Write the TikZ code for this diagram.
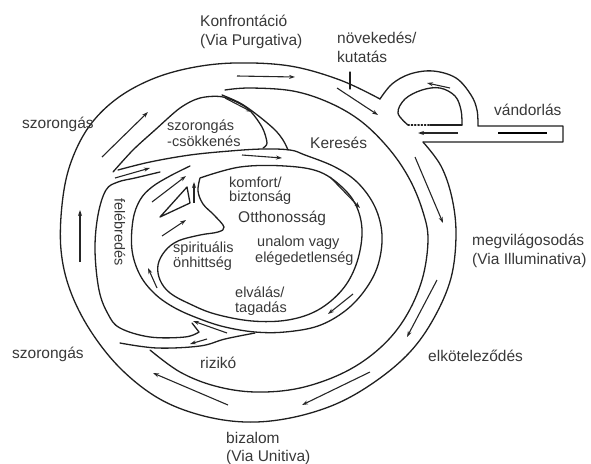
\documentclass[tikz,border=0pt]{standalone}
\usepackage{fontspec}
\setmainfont{Liberation Sans}
\usetikzlibrary{arrows.meta}
\begin{document}
\begin{tikzpicture}[x=1pt,y=-1pt,
  ln/.style={line width=1.3pt, line join=round, line cap=round, color=black!88},
  arr/.style={line width=1.1pt, color=black!85, -{Stealth[length=6pt,width=4pt]}},
  lbl/.style={font=\fontsize{15.5}{18}\selectfont, text=black!78, inner sep=0pt, anchor=base west},
  ilbl/.style={font=\fontsize{14.5}{16}\selectfont, text=black!78, inner sep=0pt, anchor=base west}]
\useasboundingbox (0,0) rectangle (591,463);

% outer line A with loop and strip
\draw[ln] plot[smooth,tension=0.6] coordinates {(423,142) (441,166) (452,198) (456,235) (451,278) (434,318) (410,352) (376,381) (336,404) (290,418) (245,422) (200,415) (158,398) (120,368) (90,330) (70,290) (61,250) (62,205) (70,165) (88,128) (115,100) (150,80) (190,68) (235,63) (290,66) (340,80) (380,99)};
\draw[ln] plot[smooth,tension=0.6] coordinates {(380,99) (392,84) (410,74) (433,71) (456,78) (471,95) (477,110) (478,126)} -- (563,126) -- (563,142) -- (423,142);
% inner loop
\draw[ln] plot[smooth,tension=0.6] coordinates {(408,125) (398,113) (405,99) (422,90) (440,88) (455,96) (461,110) (462,125)};
\draw[ln] (430,125) -- (462,125);
\draw[ln,dotted] (408,125) -- (430,125);
\draw[line width=2pt] (498,133) -- (547,133);
\draw[ln] (350,72) -- (350,89);

% line B
\draw[ln] plot[smooth,tension=0.6] coordinates {(225,90) (250,88) (293,91) (330,103) (362,122) (390,150) (410,180) (423,212) (428,240) (422,280) (405,318) (380,348) (345,372) (300,388) (255,392) (215,386) (180,372) (150,350)};
% channel line from B start to J1
\draw[ln] plot[smooth,tension=0.6] coordinates {(222,95) (240,103) (256,114) (274,129) (283,140) (288,150)};
% szorongas-csokkenes outline
\draw[ln] plot[smooth,tension=0.5] coordinates {(113,172) (133,150) (155,130) (180,108) (200,98) (223,97) (247,108) (262,127) (267,143) (263,148)};
% line C (with its left part)
\draw[ln] plot[smooth,tension=0.6] coordinates {(118,170) (150,162) (190,155) (230,151) (263,149) (290,150) (305,155) (335,167) (358,183) (375,207) (382,235) (378,265) (365,290) (345,311) (318,326) (285,332) (255,332) (225,327) (200,319) (175,308) (155,294) (140,275) (132,250) (133,220) (140,200) (152,187) (170,176) (190,166)};
% rizikó line
\draw[ln] plot[smooth,tension=0.6] coordinates {(120,343) (157,348) (200,346) (225,339) (255,333)};
% B-left with tip
\draw[ln] plot[smooth,tension=0.6] coordinates {(160,172) (135,178) (118,182) (106,190) (98,215) (95,250) (99,290) (108,314) (120,328) (150,337) (185,337) (199,332)} -- (192,323);
% ellipse E with notch
\draw[ln] plot[smooth,tension=0.6] coordinates {(200,178) (240,167) (285,166) (320,172) (345,190) (358,210) (362,235) (356,265) (342,290) (318,310) (288,320) (252,321) (215,314) (190,304) (170,293) (160,280) (158,265) (165,251) (178,241) (200,235) (218,232) (224,227) (214,215) (203,204) (198,191) (200,178)};
% triangle
\draw[ln] (160,217) -- (187,187) -- (190,203) -- cycle;

% arrows
\draw[arr] (458,133) -- (418,133);
\draw[arr] (450,88) -- (427,83);
\draw[arr] (237,76) -- (295,77);
\draw[arr] (337,88) -- (378,115);
\draw[arr] (415,157) -- (443,223);
\draw[arr] (437,280) -- (407,337);
\draw[arr] (370,372) -- (302,405);
\draw[arr] (228,405) -- (153,373);
\draw[arr] (80,262) -- (80,210);
\draw[arr] (102,157) -- (148,112);
\draw[arr] (242,155) -- (282,158);
\draw[arr] (330,177) -- (360,208);
\draw[arr] (353,294) -- (328,314);
\draw[arr] (227,333) -- (193,321);
\draw[arr] (157,288) -- (148,268);
\draw[arr] (152,202) -- (186,176);
\draw[arr] (162,236) -- (186,220);
\draw[arr] (194,203) -- (194,182);
\draw[arr] (115,178) -- (150,168);
\draw[arr] (225,98) -- (252,112);
\draw[arr] (207,339) -- (190,344);

% labels
\node[lbl] (k1) at (200,27) {Konfrontáció};
\node[lbl] (k2) at (200,45) {(Via Purgativa)};
\node[lbl] (n1) at (337,43) {növekedés/};
\node[lbl] (n2) at (337,62) {kutatás};
\node[lbl] (v1) at (494,115) {vándorlás};
\node[lbl] (s1) at (22,128) {szorongás};
\node[ilbl] (c1) at (167,130) {szorongás};
\node[ilbl] (c2) at (167,146) {-csökkenés};
\node[lbl] (ke) at (310,148) {Keresés};
\node[ilbl] (ko1) at (229,187) {komfort/};
\node[ilbl] (ko2) at (229,201) {biztonság};
\node[lbl] (ot) at (238,222) {Otthonosság};
\node[ilbl] (u1) at (257,246) {unalom vagy};
\node[ilbl] (u2) at (255,262) {elégedetlenség};
\node[ilbl] (sp1) at (173,252) {spirituális};
\node[ilbl] (sp2) at (173,267) {önhittség};
\node[ilbl] (e1) at (235,297) {elválás/};
\node[ilbl] (e2) at (235,312) {tagadás};
\node[lbl] (ri) at (200,368) {rizikó};
\node[lbl] (s2) at (12,358) {szorongás};
\node[lbl] (b1) at (226,443) {bizalom};
\node[lbl] (b2) at (226,461) {(Via Unitiva)};
\node[lbl] (m1) at (472,245) {megvilágosodás};
\node[lbl] (m2) at (472,264) {(Via Illuminativa)};
\node[lbl] (el) at (428,361) {elköteleződés};
\node[ilbl, anchor=center, rotate=-90] (fe) at (120,232) {felébredés};
\end{tikzpicture}
\end{document}
